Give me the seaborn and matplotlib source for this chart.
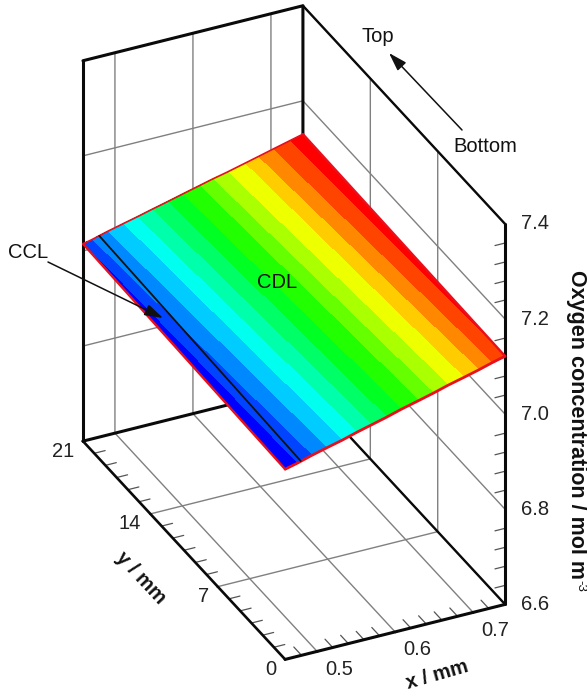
"""
Oxygen concentration over the CDL, drawn as a banded surface in a 3D box.
"""
import matplotlib
matplotlib.use("Agg")
import matplotlib.pyplot as plt
from matplotlib.patches import FancyArrowPatch
from mpl_toolkits.mplot3d import proj3d
import numpy as np
import seaborn as sns

# ---------------------------------------------------------
# Data
# ---------------------------------------------------------
x_limits = [0.459, 0.741]
y_limits = [0, 21]
z_limits = [6.6, 7.4]

x_ticks = [0.5, 0.6, 0.7]
y_ticks = [0, 7, 14, 21]
z_ticks = [6.6, 6.8, 7.0, 7.2, 7.4]
x_minor = [0.48, 0.52, 0.54, 0.56, 0.58, 0.62, 0.64, 0.66, 0.68, 0.72]
y_minor = [1.17, 2.33, 3.5, 4.67, 5.83, 8.17, 9.33, 10.5, 11.67, 12.83, 15.17, 16.33, 17.5, 18.67, 19.83]
z_minor = [6.64, 6.68, 6.72, 6.76, 6.84, 6.88, 6.92, 6.96, 7.04, 7.08, 7.12, 7.16, 7.24, 7.28, 7.32, 7.36]

# band edges along x at y = 0 and y = 21, and the concentration there
front_x = [0.459, 0.474, 0.493, 0.512, 0.532, 0.551, 0.570, 0.589, 0.608, 0.630, 0.649, 0.668, 0.688, 0.707, 0.724, 0.741, 0.741]
back_x = [0.459, 0.459, 0.470, 0.490, 0.510, 0.528, 0.547, 0.567, 0.586, 0.608, 0.625, 0.644, 0.666, 0.683, 0.702, 0.724, 0.741]
front_conc = [7.000, 7.006, 7.015, 7.023, 7.031, 7.040, 7.048, 7.056, 7.065, 7.074, 7.082, 7.091, 7.099, 7.107, 7.115, 7.122, 7.122]
back_conc = [7.015, 7.015, 7.019, 7.028, 7.036, 7.043, 7.051, 7.059, 7.067, 7.076, 7.083, 7.090, 7.099, 7.106, 7.114, 7.123, 7.130]

ccl_x = [0.479, 0.480]
ccl_y = [0, 21]
ccl_conc = [7.009, 7.023]

# ---------------------------------------------------------
# Figure setup
# ---------------------------------------------------------
sns.set_theme(style="white")
plt.rcParams["font.family"] = ["Liberation Sans", "DejaVu Sans"]
plt.rcParams["text.color"] = "#111111"

W, H = 587, 693
FONT = 14.5
fig = plt.figure(figsize=(W / 100, H / 100), dpi=100)
ax = fig.add_axes([-7.4 / W, 59 / H, 1, W / H], projection="3d", proj_type="ortho", computed_zorder=False)
ax.patch.set_alpha(0)
ax.view_init(elev=31.3, azim=-115.7)
ax.set_box_aspect((244, 466, 445), zoom=1.14)
ax.set_xlim(*x_limits)
ax.set_ylim(*y_limits)
ax.set_zlim(*z_limits)


def px(x, y):
    return x / W, 1 - y / H


def tick_label(x, y, z, text, dx, dy, ha="center"):
    # label placed a few pixels away from where the tick lands on screen
    xs, ys, _ = proj3d.proj_transform(x, y, z, ax.get_proj())
    ax.annotate(text, (xs, ys), xytext=(dx, dy), textcoords="offset pixels", fontsize=FONT, color="#222222",
                ha=ha, va="center", annotation_clip=False, zorder=10)


# ---------------------------------------------------------
# Surface
# ---------------------------------------------------------
band_colors = sns.blend_palette(["#0000ff", "#00ffff", "#00ff00", "#ffff00", "#ff0000"], n_colors=16)
X = np.array([front_x, back_x])
Y = np.array([[y_limits[0]] * len(front_x), [y_limits[1]] * len(back_x)])
Z = np.array([front_conc, back_conc])
faces = np.array([[c + (1,) for c in band_colors]])
ax.plot_surface(X, Y, Z, facecolors=faces, rstride=1, cstride=1, shade=False, linewidth=0, antialiased=False, zorder=5)

red = "#e8101c"
ax.plot(front_x, [y_limits[0]] * len(front_x), front_conc, color=red, lw=2.0, zorder=6, clip_on=False)
ax.plot(back_x, [y_limits[1]] * len(back_x), back_conc, color=red, lw=1.2, zorder=6, clip_on=False)
ax.plot([front_x[0], back_x[0]], y_limits, [front_conc[0], back_conc[0]], color=red, lw=1.7, zorder=6, clip_on=False)
ax.plot([front_x[-1], back_x[-1]], y_limits, [front_conc[-1], back_conc[-1]], color=red, lw=1.7, zorder=6, clip_on=False)
ax.plot(ccl_x, ccl_y, ccl_conc, color="#111111", lw=1.3, zorder=7, clip_on=False)

# ---------------------------------------------------------
# Grid and ticks
# ---------------------------------------------------------
for axis in (ax.xaxis, ax.yaxis, ax.zaxis):
    axis.set_pane_color((1, 1, 1, 1))
    axis.pane.set_edgecolor("none")
    axis.line.set_color("none")
    axis._axinfo["grid"].update(color="#808080", linewidth=1.0, linestyle="-")
    axis._axinfo["tick"].update(inward_factor=0.02, outward_factor=0, linewidth={True: 1.5, False: 1.0})

ax.grid(True)
ax.set_xticks(x_ticks)
ax.set_yticks(y_ticks)
ax.set_zticks(z_ticks)
ax.set_xticklabels([])
ax.set_yticklabels([])
ax.set_zticklabels([])
ax.zaxis.set_ticks_position("lower")

for xm in x_ticks:
    tick_label(xm, y_limits[0], z_limits[0], f"{xm:.1f}", 22, -18)
for ym in y_ticks:
    tick_label(x_limits[0], ym, z_limits[0], str(ym), -9, -10, ha="right")
for zm in z_ticks:
    tick_label(x_limits[1], y_limits[0], zm, f"{zm:.1f}", 30, 0)

tick_style = dict(color="#555555", lw=0.9, zorder=2, clip_on=False)
for xm in x_minor:
    ax.plot([xm, xm], [0, 0.8], [z_limits[0], z_limits[0]], **tick_style)
for ym in y_minor:
    ax.plot([x_limits[0], x_limits[0] + 0.014], [ym, ym], [z_limits[0], z_limits[0]], **tick_style)
for zm in z_minor:
    ax.plot([x_limits[1], x_limits[1] - 0.013], [0, 0], [zm, zm], **tick_style)

# ---------------------------------------------------------
# Box edges
# ---------------------------------------------------------
x0, x1 = x_limits
y0, y1 = y_limits
z0, z1 = z_limits
heavy = dict(color="#0a0a0a", lw=2.2, zorder=3, solid_capstyle="round", clip_on=False)
light = dict(color="#0a0a0a", lw=1.7, zorder=3, solid_capstyle="round", clip_on=False)
ax.plot([x0, x1, x1], [y1, y1, y1], [z1, z1, z0], **heavy)
ax.plot([x0, x0], [y1, y1], [z1, z0], **heavy)
ax.plot([x0, x1], [y1, y1], [z0, z0], **heavy)
ax.plot([x1, x1], [y0, y0], [z0, z1], **heavy)
ax.plot([x0, x1], [y0, y0], [z0, z0], **heavy)
ax.plot([x0, x0], [y0, y1], [z0, z0], color="#0a0a0a", lw=1.9, zorder=3, clip_on=False)
ax.plot([x1, x1], [y1, y0], [z1, z1], **light)
ax.plot([x1, x1], [y1, y0], [z0, z0], **light)

# ---------------------------------------------------------
# Labels and notes
# ---------------------------------------------------------
fig.text(*px(576, 424), "Oxygen concentration / mol m", rotation=-90, fontsize=15.5, fontweight="bold",
         ha="center", va="center")
fig.text(*px(580, 586), "-3", rotation=-90, fontsize=9.5, ha="center", va="center")
fig.text(*px(141, 578), "y / mm", rotation=-47, fontsize=FONT, fontweight="bold", ha="center", va="center")
fig.text(*px(437, 675), "x / mm", rotation=16, fontsize=FONT, fontweight="bold", ha="center", va="center")

fig.text(*px(378, 37), "Top", fontsize=FONT, ha="center", va="center")
fig.text(*px(485, 147), "Bottom", fontsize=FONT, ha="center", va="center")
fig.text(*px(28, 252), "CCL", fontsize=FONT, ha="center", va="center")
fig.text(*px(277, 283), "CDL", fontsize=FONT, ha="center", va="center", zorder=10)

arrow = dict(arrowstyle="-|>,head_length=0.7,head_width=0.22", color="#111111", lw=1.1, mutation_scale=16,
             shrinkA=0, shrinkB=0)
fig.add_artist(FancyArrowPatch(px(462, 130), px(389, 53), transform=fig.transFigure, zorder=10, **arrow))
fig.add_artist(FancyArrowPatch(px(48, 262), px(163, 318), transform=fig.transFigure, zorder=10, **arrow))

fig.savefig("out.png", dpi=100)
